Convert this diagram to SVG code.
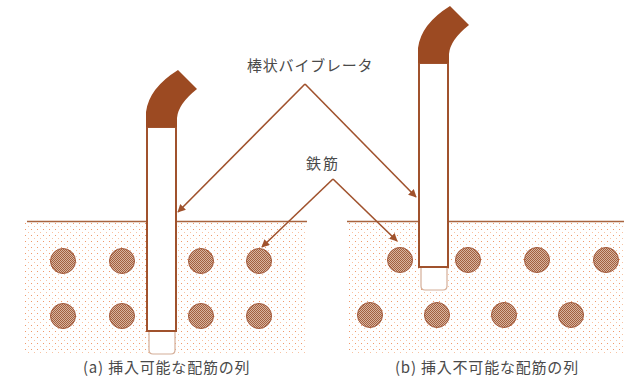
<svg xmlns="http://www.w3.org/2000/svg" width="624" height="379" viewBox="0 0 624 379">
  <style>
    .label { font-family: "Noto Sans CJK JP", "Noto Sans", sans-serif; font-size: 15px; fill: #4A4A4A; }
    .ground { stroke: #A8643F; stroke-width: 1.5; fill: none; }
    .soil { fill: url(#dots); }
    .bar { fill: url(#checker); stroke: #A0583A; stroke-width: 1; }
    .body { fill: #FFFFFF; stroke: #A0522D; stroke-width: 2; }
    .tip { fill: #FFFFFF; stroke: #D4AE98; stroke-width: 1.2; }
    .hose { fill: #9C4A22; }
    .leader { stroke: #A0522D; stroke-width: 1.6; fill: none; marker-end: url(#arrow); }
  </style>
  <defs>
    <pattern id="dots" width="6" height="6" patternUnits="userSpaceOnUse">
      <rect x="1" y="1" width="1" height="1" fill="#F09A6C"/>
      <rect x="4" y="4" width="1" height="1" fill="#F8C4A4"/>
    </pattern>
    <pattern id="checker" width="2" height="2" patternUnits="userSpaceOnUse">
      <rect width="2" height="2" fill="#D8B4A0"/>
      <rect width="1" height="1" fill="#A2603F"/>
      <rect x="1" y="1" width="1" height="1" fill="#A2603F"/>
    </pattern>
    <marker id="arrow" viewBox="0 0 10 10" refX="9" refY="5" markerWidth="5" markerHeight="5" orient="auto" markerUnits="strokeWidth">
      <path d="M0,0 L10,5 L0,10 Z" fill="#A0522D"/>
    </marker>
  </defs>

  <!-- (a) insertable arrangement -->
  <g id="soil-a">
    <rect class="soil" x="25" y="222" width="281" height="132"/>
    <line class="ground" x1="27" y1="221.5" x2="307" y2="221.5"/>
  </g>
  <g id="bars-a">
    <circle class="bar" cx="63" cy="261" r="12.5"/>
    <circle class="bar" cx="122" cy="261" r="12.5"/>
    <circle class="bar" cx="201" cy="261" r="12.5"/>
    <circle class="bar" cx="259" cy="261" r="12.5"/>
    <circle class="bar" cx="63" cy="316" r="12.5"/>
    <circle class="bar" cx="122" cy="316" r="12.5"/>
    <circle class="bar" cx="201" cy="316" r="12.5"/>
    <circle class="bar" cx="259" cy="316" r="12.5"/>
  </g>
  <g id="vibrator-a">
    <path class="tip" d="M149,331 L149,350 Q149,354 153,354 L171,354 Q175,354 175,350 L175,331"/>
    <rect class="body" x="147" y="127" width="29" height="204"/>
    <path class="hose" d="M146,127 L146,112 Q149,88 178,70 L197,89 Q178,104 177,118 L177,127 Z"/>
  </g>

  <!-- (b) non-insertable arrangement -->
  <g id="soil-b">
    <rect class="soil" x="347" y="222" width="277" height="132"/>
    <line class="ground" x1="347" y1="221.5" x2="624" y2="221.5"/>
  </g>
  <g id="bars-b">
    <circle class="bar" cx="400" cy="260" r="12.5"/>
    <circle class="bar" cx="468" cy="260" r="12.5"/>
    <circle class="bar" cx="537" cy="260" r="12.5"/>
    <circle class="bar" cx="606" cy="260" r="12.5"/>
    <circle class="bar" cx="370" cy="315" r="12.5"/>
    <circle class="bar" cx="437" cy="315" r="12.5"/>
    <circle class="bar" cx="504" cy="315" r="12.5"/>
    <circle class="bar" cx="571" cy="315" r="12.5"/>
  </g>
  <g id="vibrator-b">
    <path class="tip" d="M421,267 L421,286 Q421,290 425,290 L443,290 Q447,290 447,286 L447,267"/>
    <rect class="body" x="419" y="63" width="29" height="204"/>
    <path class="hose" d="M418,63 L418,48 Q421,24 450,6 L469,25 Q450,40 449,54 L449,63 Z"/>
  </g>

  <!-- leaders -->
  <g id="connectors">
    <polyline class="leader" points="305,84 178,212"/>
    <polyline class="leader" points="305,84 416,197"/>
    <polyline class="leader" points="333,179 262,247"/>
    <polyline class="leader" points="333,179 397,241"/>
  </g>

  <!-- labels -->
  <g id="label-vibrator"><text class="label" x="247" y="71" letter-spacing="0.8">棒状バイブレータ</text></g>
  <g id="label-rebar"><text class="label" x="306" y="169" letter-spacing="2">鉄筋</text></g>
  <g id="caption-a"><text class="label" x="83" y="373" letter-spacing="0.8">(a) 挿入可能な配筋の列</text></g>
  <g id="caption-b"><text class="label" x="395" y="373" letter-spacing="0.8">(b) 挿入不可能な配筋の列</text></g>
</svg>
